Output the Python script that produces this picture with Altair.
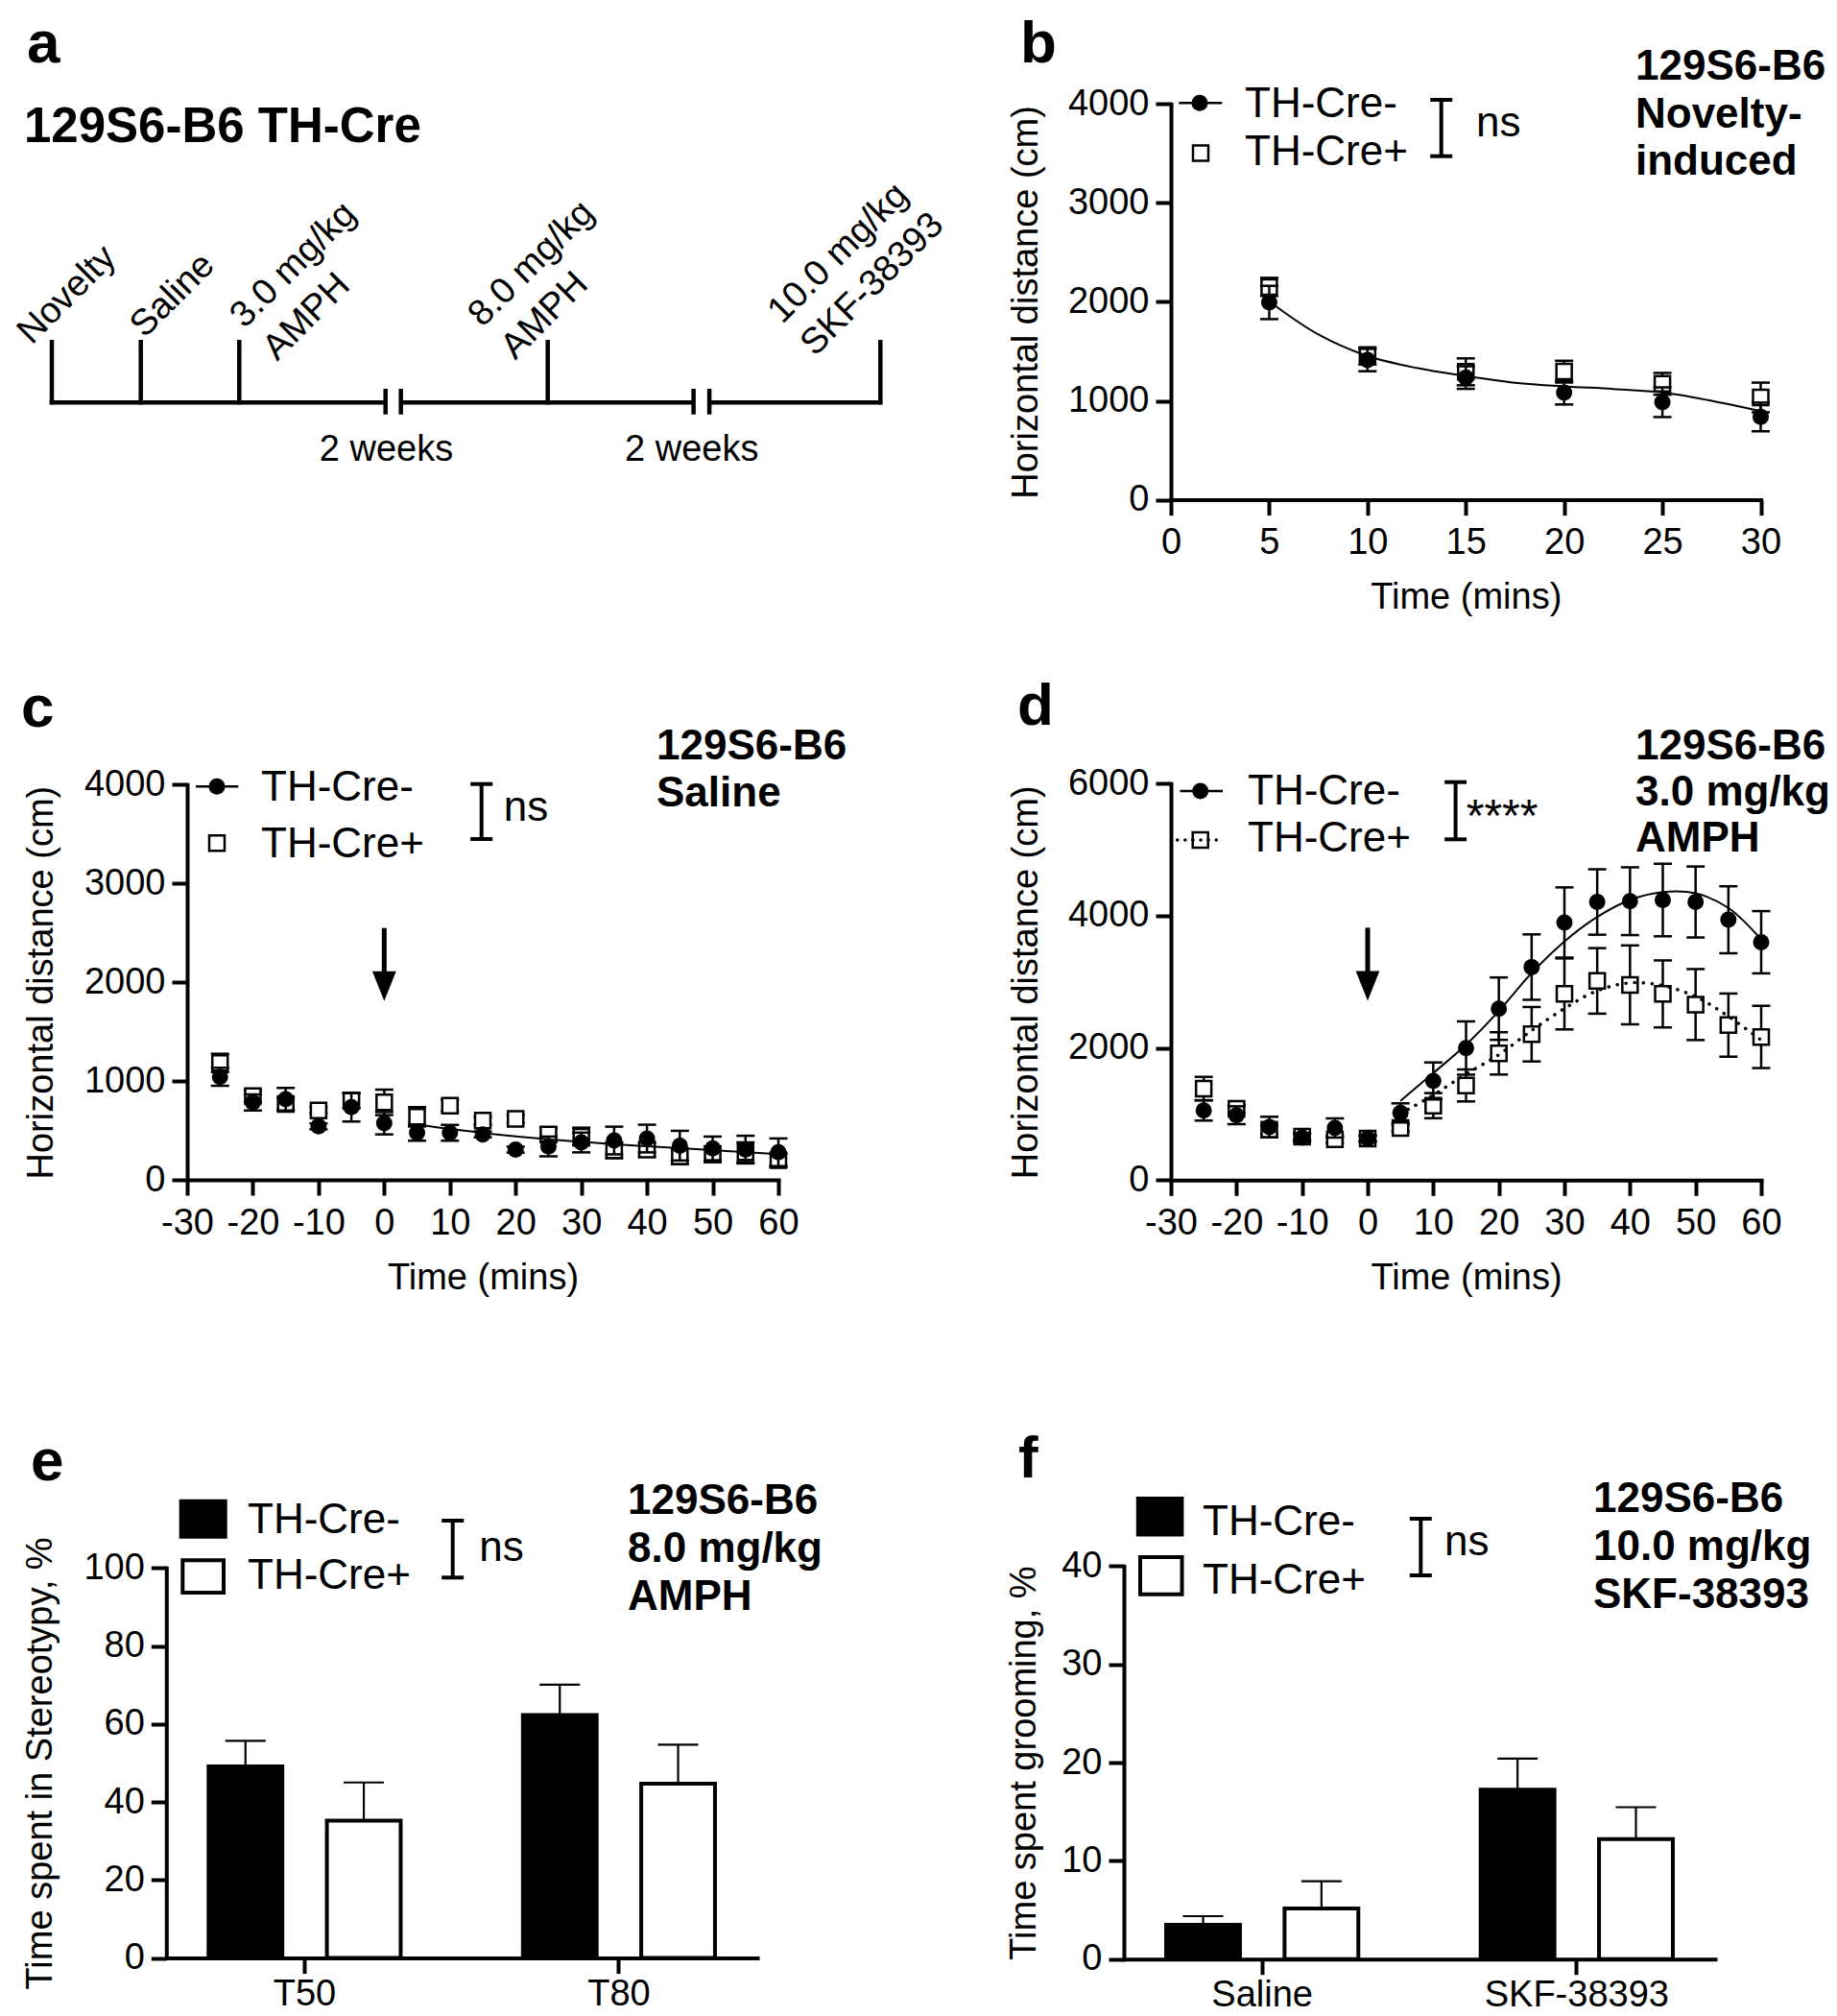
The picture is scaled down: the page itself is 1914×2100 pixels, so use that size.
import altair as alt
import pandas as pd

FONT = "Liberation Sans"
W, H = 1898, 2092  # whole figure area (page minus the 8px margin)

# ---------------- panel a: schematic timeline (diagram units) ----------------
A_TICK_X = [46, 138.7, 241.3, 562.7, 909.3]
A_SEG_X1 = [43.7, 409.7, 731.1]
A_SEG_X2 = [393.7, 714.6, 911.3]
A_BREAK_X = [393.7, 409.7, 714.6, 731.1]
A_BASE_Y = 411.3
A_TICK_TOP = 346
A_LABELS = [["Novelty"], ["Saline"], ["3.0 mg/kg", "AMPH"], ["8.0 mg/kg", "AMPH"], ["10.0 mg/kg", "SKF-38393"]]
A_LABEL_X = [25, 142.6, 246.8, 494.8, 807]
A_LABEL_Y = [352, 345, 335, 333.7, 330.3]
A_GAP_X = [394.5, 712.7]
A_GAP_TEXT = ["2 weeks", "2 weeks"]

# ---------------- panel b ----------------
B_T = [5, 10, 15, 20, 25, 30]
B_NEG = [1994, 1412, 1235, 1083, 986, 837]
B_NEG_SEM = [168, 113, 114, 120, 150, 145]
B_POS = [2151, 1454, 1293, 1295, 1172, 1034]
B_POS_SEM = [92, 87, 136, 110, 110, 150]
B_FIT_T = [5, 7.5, 10, 12.5, 15, 17.5, 20, 22.5, 25, 27.5, 30]
B_FIT = [2005, 1671, 1454, 1332, 1250, 1183, 1146, 1120, 1085, 1000, 895]

# ---------------- panels c, d ----------------
CD_T = [-25, -20, -15, -10, -5, 0, 5, 10, 15, 20, 25, 30, 35, 40, 45, 50, 55, 60]
FIT_T = [5, 10, 15, 20, 25, 30, 35, 40, 45, 50, 55, 60]
C_NEG = [1043, 784, 816, 541, 736, 573, 476, 476, 460, 306, 338, 378, 398, 418, 346, 318, 306, 279]
C_NEG_SEM = [91, 81, 114, 30, 146, 113, 80, 80, 30, 30, 100, 100, 140, 140, 150, 120, 140, 140]
C_POS = [1183, 848, 768, 703, 800, 784, 638, 751, 600, 617, 458, 438, 299, 306, 239, 259, 279, 199]
C_POS_SEM = [93, 60, 60, 30, 72, 129, 98, 60, 40, 40, 72, 90, 80, 70, 80, 80, 100, 68]
C_FIT = [560, 515, 475, 440, 410, 385, 360, 340, 320, 300, 280, 260]
C_ARROW = [2548, 2050, 1960]

D_NEG = [1055, 982, 803, 644, 789, 629, 1017, 1501, 1999, 2595, 3224, 3899, 4209, 4221, 4239, 4209, 3940, 3600]
D_NEG_SEM = [154, 135, 156, 60, 145, 50, 145, 280, 403, 472, 495, 531, 495, 513, 549, 537, 507, 471]
D_POS = [1385, 1079, 764, 658, 619, 629, 789, 1127, 1433, 1918, 2208, 2818, 3015, 2955, 2818, 2657, 2346, 2167]
D_POS_SEM = [178, 60, 60, 50, 50, 40, 50, 190, 242, 320, 412, 537, 496, 597, 507, 537, 478, 471]
D_FIT_NEG = [1200, 1620, 2050, 2560, 3134, 3612, 3982, 4239, 4358, 4340, 4119, 3642]
D_FIT_POS = [1005, 1288, 1605, 1898, 2264, 2597, 2866, 2985, 2943, 2776, 2478, 2119]
D_ARROW = [3820, 3000, 2940]

# ---------------- panels e, f ----------------
E_CATS = ["T50", "T80"]
E_NEG = [49.1, 62.3]
E_NEG_SEM = [6.6, 7.8]
E_POS = [35.2, 44.7]
E_POS_SEM = [9.8, 10.0]

F_CATS = ["Saline", "SKF-38393"]
F_NEG = [3.48, 17.24]
F_NEG_SEM = [0.89, 3.16]
F_POS = [5.14, 12.21]
F_POS_SEM = [2.78, 3.25]

HEAD = "M-0.4,-0.5L0.4,-0.5L0,0.5Z"


def one():
    return alt.Chart(pd.DataFrame({"k": [0]}))


def txt(s, x, y, size, o=(0, 0), bold=False, align="left", angle=None, lh=None):
    kw = dict(text=s, font=FONT, fontSize=size, fontWeight="bold" if bold else "normal",
              align=align, baseline="alphabetic", color="black")
    if angle is not None:
        kw["angle"] = angle
    if lh is not None:
        kw["lineHeight"] = lh
    return one().mark_text(**kw).encode(x=alt.value(x + o[0]), y=alt.value(y + o[1]))


def seg(x1, y1, x2, y2, w, o=(0, 0), **kw):
    return one().mark_rule(color="black", strokeWidth=w, **kw).encode(
        x=alt.value(x1 + o[0]), y=alt.value(y1 + o[1]),
        x2=alt.value(x2 + o[0]), y2=alt.value(y2 + o[1]))


def bracket(x, y1, y2, o, cw=23, w=4):
    return [seg(x, y1, x, y2, w, o), seg(x - cw / 2, y1, x + cw / 2, y1, w, o),
            seg(x - cw / 2, y2, x + cw / 2, y2, w, o)]


def sym(x, y, kind, o):
    if kind == "circle":
        m = one().mark_point(shape="circle", filled=True, color="black", size=289, opacity=1)
    else:
        m = one().mark_point(shape="square", filled=True, fill="white", stroke="black",
                             strokeWidth=2.5, size=256, opacity=1)
    return m.encode(x=alt.value(x + o[0]), y=alt.value(y + o[1]))


def box(x1, y1, x2, y2, filled, o):
    if filled:
        m = one().mark_rect(fill="black")
    else:
        m = one().mark_rect(fill="white", stroke="black", strokeWidth=4)
    return m.encode(x=alt.value(x1 + o[0]), x2=alt.value(x2 + o[0]),
                    y=alt.value(y1 + o[1]), y2=alt.value(y2 + o[1]))


# ---------------- panel a ----------------
def panel_a():
    xs = alt.Scale(domain=[0, 992], range=[0, 992], nice=False, zero=False)
    ys = alt.Scale(domain=[0, 682], range=[0, 682], nice=False, zero=False)
    segs = pd.DataFrame({"x1": A_SEG_X1, "x2": A_SEG_X2, "y": [A_BASE_Y] * len(A_SEG_X1)})
    ticks = pd.DataFrame({"x": A_TICK_X, "y1": [A_TICK_TOP] * 5, "y2": [A_BASE_Y + 2] * 5})
    brk = pd.DataFrame({"x": A_BREAK_X, "y1": [397] * 4, "y2": [423.7] * 4})
    gaps = pd.DataFrame({"x": A_GAP_X, "y": [472, 472], "t": A_GAP_TEXT})
    layers = []
    layers.append(alt.Chart(segs).mark_rule(color="black", strokeWidth=4.5).encode(
        x=alt.X("x1:Q", scale=xs, axis=None), x2="x2:Q", y=alt.Y("y:Q", scale=ys, axis=None)))
    layers.append(alt.Chart(ticks).mark_rule(color="black", strokeWidth=4.5).encode(
        x=alt.X("x:Q", scale=xs, axis=None), y=alt.Y("y1:Q", scale=ys, axis=None), y2="y2:Q"))
    layers.append(alt.Chart(brk).mark_rule(color="black", strokeWidth=4.5).encode(
        x=alt.X("x:Q", scale=xs, axis=None), y=alt.Y("y1:Q", scale=ys, axis=None), y2="y2:Q"))
    layers.append(alt.Chart(gaps).mark_text(font=FONT, fontSize=38, align="center",
                                            baseline="alphabetic", color="black").encode(
        x=alt.X("x:Q", scale=xs, axis=None), y=alt.Y("y:Q", scale=ys, axis=None), text="t:N"))
    for lab, lx, ly in zip(A_LABELS, A_LABEL_X, A_LABEL_Y):
        layers.append(txt(lab if len(lab) > 1 else lab[0], lx, ly, 38, angle=315, lh=48))
    layers.append(txt("a", 20, 57, 62, bold=True))
    layers.append(txt("129S6-B6 TH-Cre", 17, 140.3, 51, bold=True))
    return alt.layer(*layers)


# ---------------- line panels ----------------
def line_panel(t, neg, neg_sem, pos, pos_sem, xdom, xvals, ydom, yvals, xr, yr, tpad,
               fits, arrow, extras):
    rows = []
    for g, m, s in (("neg", neg, neg_sem), ("pos", pos, pos_sem)):
        for ti, mi, si in zip(t, m, s):
            rows.append(dict(t=ti, m=mi, lo=mi - si, hi=mi + si, g=g))
    df = pd.DataFrame(rows)
    xs = alt.Scale(domain=xdom, range=xr, nice=False, zero=False)
    ys = alt.Scale(domain=ydom, range=yr, nice=False, zero=False)
    xax = alt.Axis(values=xvals, title="Time (mins)", labelExpr="'' + datum.value",
                   orient="bottom", offset=yr[0] - H)
    yax = alt.Axis(values=yvals, title="Horizontal distance (cm)", titlePadding=tpad,
                   labelExpr="'' + datum.value", orient="left", offset=-xr[0])

    def X():
        return alt.X("t:Q", scale=xs, axis=xax)

    def Y(f):
        return alt.Y(f + ":Q", scale=ys, axis=yax)

    layers = []
    for g in ("pos", "neg"):
        d = df[df.g == g]
        layers.append(alt.Chart(d).mark_rule(color="black", strokeWidth=2.5).encode(
            x=X(), y=Y("lo"), y2="hi:Q"))
        for f in ("lo", "hi"):
            layers.append(alt.Chart(d).mark_tick(orient="horizontal", color="black", size=19,
                                                 thickness=2.5, opacity=1).encode(x=X(), y=Y(f)))
        if g == "pos":
            layers.append(alt.Chart(d).mark_point(shape="square", filled=True, fill="white",
                                                  stroke="black", strokeWidth=2.5, size=256,
                                                  opacity=1).encode(x=X(), y=Y("m")))
        else:
            layers.append(alt.Chart(d).mark_point(shape="circle", filled=True, color="black",
                                                  size=289, opacity=1).encode(x=X(), y=Y("m")))
    for ft, fv, dotted in fits:
        fdf = pd.DataFrame({"t": ft, "m": fv})
        if dotted:
            mk = dict(color="black", strokeWidth=3.5, strokeDash=[0.1, 9], strokeCap="round",
                      interpolate="catmull-rom")
        else:
            mk = dict(color="black", strokeWidth=2, interpolate="catmull-rom")
        layers.append(alt.Chart(fdf).mark_line(**mk).encode(x=X(), y=Y("m")))
    if arrow is not None:
        adf = pd.DataFrame({"t": [0], "a": [arrow[0]], "b": [arrow[1]]})
        layers.append(alt.Chart(adf).mark_rule(color="black", strokeWidth=5).encode(
            x=X(), y=Y("a"), y2="b:Q"))
        hdf = pd.DataFrame({"t": [0], "m": [arrow[2]]})
        layers.append(alt.Chart(hdf).mark_point(shape=HEAD, filled=True, color="black",
                                                size=3844, opacity=1).encode(x=X(), y=Y("m")))
    layers += extras
    return alt.layer(*layers)


def bar_panel(cats, neg, neg_sem, pos, pos_sem, ydom, yvals, ytitle, tpad, xr, yr, extras):
    rows = []
    for g, m, s in (("neg", neg, neg_sem), ("pos", pos, pos_sem)):
        for c, mi, si in zip(cats, m, s):
            rows.append(dict(cat=c, g=g, v=mi, hi=mi + si))
    df = pd.DataFrame(rows)
    xs = alt.Scale(domain=cats, range=xr, paddingInner=0.3, paddingOuter=0.09)
    os_ = alt.Scale(domain=["neg", "pos"], paddingInner=0.3765, paddingOuter=0.118)
    ys = alt.Scale(domain=ydom, range=yr, nice=False, zero=True)
    xax = alt.Axis(title=None, labelAngle=0, orient="bottom", offset=yr[0] - H,
                   labelLimit=500, labelPadding=3)
    yax = alt.Axis(values=yvals, title=ytitle, titlePadding=tpad, labelExpr="'' + datum.value",
                   orient="left", offset=-xr[0])
    X = alt.X("cat:N", scale=xs, axis=xax, sort=cats)
    XO = alt.XOffset("g:N", scale=os_, sort=["neg", "pos"])
    layers = []
    layers.append(alt.Chart(df).mark_rule(color="black", strokeWidth=2.2).encode(
        x=X, xOffset=XO, y=alt.Y("v:Q", scale=ys, axis=yax), y2="hi:Q"))
    layers.append(alt.Chart(df).mark_tick(orient="horizontal", color="black", size=42,
                                          thickness=2.2, opacity=1).encode(
        x=X, xOffset=XO, y=alt.Y("hi:Q", scale=ys, axis=yax)))
    layers.append(alt.Chart(df).mark_bar(stroke="black", strokeWidth=4, opacity=1).encode(
        x=X, xOffset=XO, y=alt.Y("v:Q", scale=ys, axis=yax),
        fill=alt.Fill("g:N", scale=alt.Scale(domain=["neg", "pos"], range=["black", "white"]),
                      legend=None)))
    layers += extras
    return alt.layer(*layers)


# ---------------- build panels (global coordinates = page - 8) ----------------
OB = (1212, 100.3)
OC = (187, 809.3)
OD = (1212, 808.3)
OE = (165.3, 1625.3)
OF = (1163, 1623.4)

pa = panel_a()

pb = line_panel(
    B_T, B_NEG, B_NEG_SEM, B_POS, B_POS_SEM, [0, 30], [0, 5, 10, 15, 20, 25, 30],
    [0, 4000], [0, 1000, 2000, 3000, 4000], [1212, 1826.5], [512.6, 100.3], 24,
    [(B_FIT_T, B_FIT, False)], None,
    [seg(8.3, -1, 53.3, -1, 2.5, OB), sym(30, -1, "circle", OB), sym(31, 51.2, "square", OB),
     txt("TH-Cre-", 77, 13.4, 44, OB), txt("TH-Cre+", 77, 63.4, 44, OB),
     *bracket(281.7, -4.3, 54.4, OB), txt("ns", 318, 33.4, 44, OB),
     txt(["129S6-B6", "Novelty-", "induced"], 484, -25, 44, OB, bold=True, lh=49.5),
     txt("b", -157, -43.3, 62, OB, bold=True)])

pc = line_panel(
    CD_T, C_NEG, C_NEG_SEM, C_POS, C_POS_SEM, [-30, 60], list(range(-30, 61, 10)),
    [0, 4000], [0, 1000, 2000, 3000, 4000], [187, 803], [1221, 809.3], 24.5,
    [(FIT_T, C_FIT, False)], C_ARROW,
    [seg(9, 2, 53.3, 2, 2.5, OC), sym(31, 2, "circle", OC), sym(31, 61, "square", OC),
     txt("TH-Cre-", 77, 16.7, 44, OC), txt("TH-Cre+", 77, 75.4, 44, OC),
     *bracket(306.7, -0.6, 56.7, OC), txt("ns", 329.7, 37.4, 44, OC),
     txt(["129S6-B6", "Saline"], 489, -25.9, 44, OC, bold=True, lh=49),
     txt("c", -173, -60.6, 62, OC, bold=True)])

pdd = line_panel(
    CD_T, D_NEG, D_NEG_SEM, D_POS, D_POS_SEM, [-30, 60], list(range(-30, 61, 10)),
    [0, 6000], [0, 2000, 4000, 6000], [1212, 1827], [1221.3, 808.3], 23.5,
    [(FIT_T, D_FIT_NEG, False), (FIT_T, D_FIT_POS, True)], D_ARROW,
    [seg(9.5, 7.7, 54, 7.7, 2.5, OD), sym(30.7, 7.7, "circle", OD),
     sym(30.7, 58.7, "square", OD),
     seg(6.7, 58.7, 53, 58.7, 3.5, OD, strokeDash=[0.1, 8], strokeCap="round"),
     txt("TH-Cre-", 80, 22.1, 44, OD), txt("TH-Cre+", 80, 71, 44, OD),
     *bracket(296.6, -1.6, 58, OD), txt("****", 307.7, 49.7, 48, OD),
     txt(["129S6-B6", "3.0 mg/kg", "AMPH"], 484, -24.9, 44, OD, bold=True, lh=48),
     txt("d", -160, -61.3, 62, OD, bold=True)])

pe = bar_panel(
    E_CATS, E_NEG, E_NEG_SEM, E_POS, E_POS_SEM, [0, 100], [0, 20, 40, 60, 80, 100],
    "Time spent in Stereotypy, %", 25.5, [165.3, 781], [2031.6, 1625.3],
    [box(13.4, -71.6, 63.4, -30.6, True, OE), box(17, -8, 59.7, 25.7, False, OE),
     txt("TH-Cre-", 84.7, -36.6, 44, OE), txt("TH-Cre+", 84.7, 21.7, 44, OE),
     *bracket(298.4, -49.3, 10, OE), txt("ns", 326, -7.3, 44, OE),
     txt(["129S6-B6", "8.0 mg/kg", "AMPH"], 480.7, -56.3, 44, OE, bold=True, lh=50),
     txt("e", -141.3, -91.6, 62, OE, bold=True)])

pf = bar_panel(
    F_CATS, F_NEG, F_NEG_SEM, F_POS, F_POS_SEM, [0, 40], [0, 10, 20, 30, 40],
    "Time spent grooming, %", 19.5, [1163, 1779], [2032.7, 1623.4],
    [box(12.8, -72.4, 62.4, -30.8, True, OF), box(17, -9.4, 60.5, 29.3, False, OF),
     txt("TH-Cre-", 82, -32.8, 44, OF), txt("TH-Cre+", 82, 28.6, 44, OF),
     *bracket(309.3, -49.4, 9.6, OF), txt("ns", 334, -11, 44, OF),
     txt(["129S6-B6", "10.0 mg/kg", "SKF-38393"], 489, -56.4, 44, OF, bold=True, lh=50),
     txt("f", -110, -92.4, 62, OF, bold=True)])

chart = alt.layer(pa, pb, pc, pdd, pe, pf).resolve_scale(
    x="independent", y="independent", xOffset="independent", fill="independent"
).properties(
    width=W, height=H, padding=0, autosize=alt.AutoSizeParams(type="none")
).configure_view(strokeWidth=0).configure_axis(
    grid=False, domainColor="black", domainWidth=4, domainCap="square",
    tickColor="black", tickWidth=4, tickSize=16,
    labelFont=FONT, labelFontSize=38, labelColor="black",
    titleFont=FONT, titleFontSize=38, titleFontWeight="normal", titleColor="black",
    labelFlush=False, labelOverlap=False,
).configure_axisX(labelPadding=10, titlePadding=19).configure_axisY(labelPadding=7)

chart.save("out.html", embed_options={"renderer": "svg", "actions": False})
